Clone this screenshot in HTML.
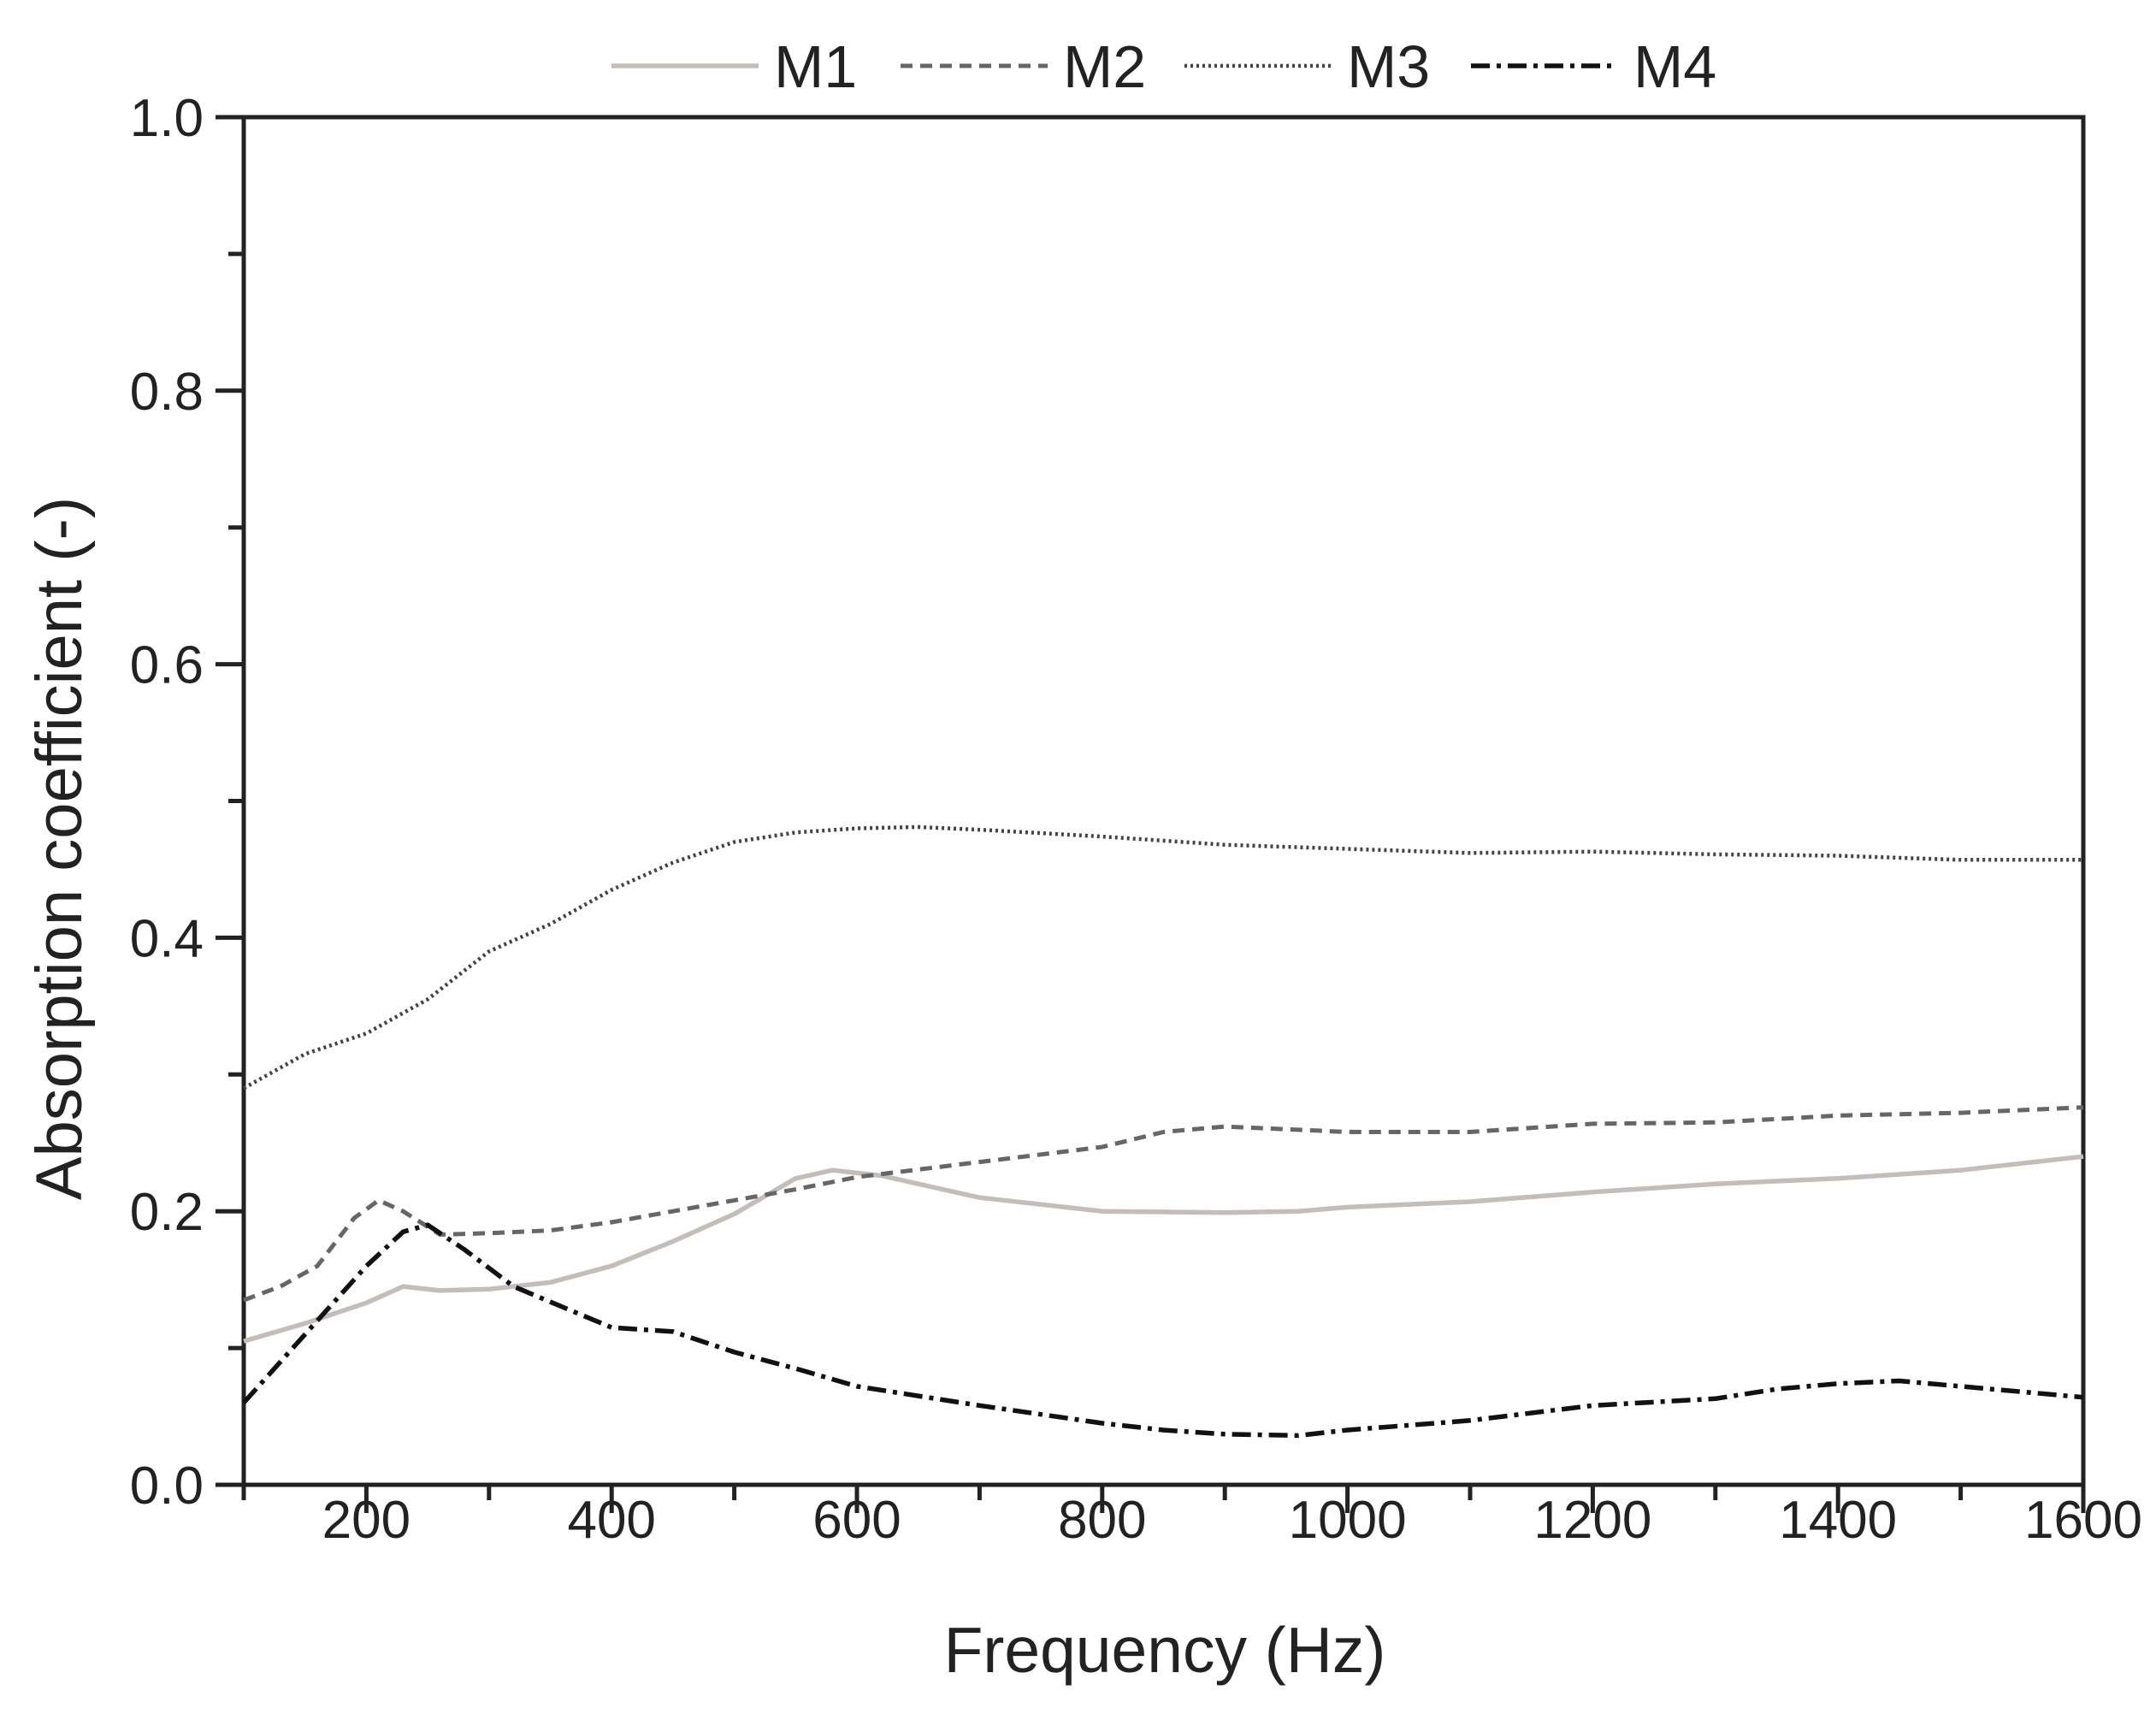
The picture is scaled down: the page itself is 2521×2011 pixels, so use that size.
<!DOCTYPE html>
<html><head><meta charset="utf-8"><style>
html,body{margin:0;padding:0;background:#fff;}
svg{display:block;font-family:"Liberation Sans",Arial,sans-serif;}
</style></head><body>
<svg id="chart" width="2521" height="2011" viewBox="0 0 2521 2011">
<rect width="2521" height="2011" fill="#fff"/>
<g id="axes"></g>
<g id="series"></g>
<g id="legend"></g>
</svg>
<script>
const xTicks = [200,400,600,800,1000,1200,1400,1600];
const yTicks = [0.0,0.2,0.4,0.6,0.8,1.0];
const yTickLabels = ["0.0","0.2","0.4","0.6","0.8","1.0"];
const seriesNames = ["M1","M2","M3","M4"];
const m1X = [100,150,200,230,260,300,350,400,450,500,550,580,620,700,800,900,960,1000,1100,1200,1300,1400,1500,1600];
const m1Y = [0.105,0.118,0.133,0.145,0.142,0.143,0.148,0.16,0.178,0.198,0.224,0.23,0.226,0.21,0.2,0.199,0.2,0.203,0.207,0.214,0.22,0.224,0.23,0.24];
const m2X = [100,130,160,190,210,230,260,300,350,400,450,500,550,600,700,800,850,900,950,1000,1100,1200,1300,1400,1500,1600];
const m2Y = [0.135,0.145,0.16,0.195,0.208,0.2,0.183,0.184,0.186,0.192,0.2,0.208,0.216,0.225,0.236,0.247,0.258,0.262,0.26,0.258,0.258,0.264,0.265,0.27,0.272,0.276];
const m3X = [100,120,150,200,250,300,350,400,450,500,550,600,650,700,800,900,1000,1100,1200,1300,1400,1500,1600];
const m3Y = [0.29,0.30,0.315,0.33,0.355,0.39,0.41,0.435,0.455,0.47,0.477,0.48,0.481,0.479,0.474,0.468,0.465,0.462,0.463,0.461,0.46,0.457,0.457];
const m4X = [100,150,200,230,250,280,320,360,400,450,500,550,600,700,800,850,900,960,1000,1100,1200,1300,1350,1400,1450,1500,1600];
const m4Y = [0.06,0.11,0.16,0.185,0.19,0.172,0.145,0.13,0.115,0.112,0.097,0.085,0.072,0.058,0.045,0.04,0.037,0.036,0.04,0.047,0.058,0.063,0.07,0.074,0.076,0.072,0.064];

const L=285,R=2436,T=137,B=1736;
const sx=v=>L+(v-100)/1500*(R-L);
const sy=v=>B-v*(B-T);
const NS="http://www.w3.org/2000/svg";
function mk(tag,attrs,parent){const e=document.createElementNS(NS,tag);for(const k in attrs)e.setAttribute(k,attrs[k]);parent.appendChild(e);return e;}
const axes=document.getElementById('axes');
let e;
e=mk('rect',{x:L,y:T,width:R-L,height:B-T,fill:'none',stroke:'#222','stroke-width':5},axes);


for(let v=100;v<=1600;v+=100){
  e=mk('line',{x1:sx(v),x2:sx(v),y1:B,y2:B+(v%200===0?33:18),stroke:'#222','stroke-width':5},axes);
  
  
}
xTicks.forEach(v=>{
  e=mk('text',{x:sx(v),y:1798,'font-size':62,'text-anchor':'middle',fill:'#222'},axes);
  e.textContent=String(v);
  
  
});
for(let i=0;i<=10;i++){
  const v=i/10;
  e=mk('line',{x1:L-(i%2===0?33:18),x2:L,y1:sy(v),y2:sy(v),stroke:'#222','stroke-width':5},axes);
  
  
}
yTicks.forEach((v,i)=>{
  e=mk('text',{x:238,y:sy(v)+22,'font-size':62,'text-anchor':'end',fill:'#222'},axes);
  e.textContent=yTickLabels[i];
  
  
});
e=mk('text',{x:1362,y:1955,'font-size':75,'text-anchor':'middle',fill:'#222'},axes);
e.textContent='Frequency (Hz)';


e=mk('text',{x:0,y:0,'font-size':76,'text-anchor':'middle',fill:'#222',transform:'translate(95,992) rotate(-90)'},axes);
e.textContent='Absorption coefficient (-)';



const styles=[
 {stroke:'#c5bdb9',w:5.5,dash:''},
 {stroke:'#666',w:5,dash:'14 9'},
 {stroke:'#444',w:4.5,dash:'3 4'},
 {stroke:'#111',w:5.5,dash:'22 8 5 8'}
];
const xs=[m1X,m2X,m3X,m4X], ys=[m1Y,m2Y,m3Y,m4Y];
const sg=document.getElementById('series');
xs.forEach((xa,i)=>{
  const d=xa.map((x,j)=>(j?'L':'M')+sx(x).toFixed(1)+' '+sy(ys[i][j]).toFixed(1)).join(' ');
  const p=mk('path',{d:d,fill:'none',stroke:styles[i].stroke,'stroke-width':styles[i].w,'stroke-dasharray':styles[i].dash,'stroke-linejoin':'round'},sg);
  
  
});
const lg=document.getElementById('legend');
const lx=[715,1053,1385,1720];
seriesNames.forEach((n,i)=>{
  const l=mk('line',{x1:lx[i],x2:lx[i]+172,y1:77,y2:77,stroke:styles[i].stroke,'stroke-width':styles[i].w,'stroke-dasharray':styles[i].dash},lg);
  
  
  const t=mk('text',{x:lx[i]+190,y:102,'font-size':70,fill:'#222'},lg);
  t.textContent=n;
  
  
});
</script>
</body></html>
